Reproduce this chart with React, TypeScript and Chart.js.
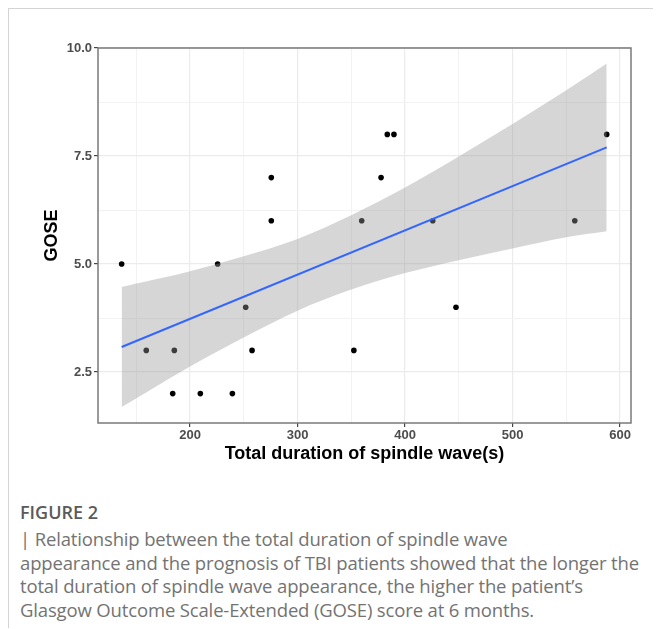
import React, { useEffect, useRef } from "react";
import { Chart, registerables } from "chart.js";

Chart.register(...registerables);

// Scatter data: total duration of spindle wave (s) vs GOSE score
const durations = [136.4, 159.3, 183.9, 185.4, 209.6, 225.7, 239.4, 251.8, 257.7, 275.6, 275.6, 352.4, 359.7, 377.7, 383.5, 389.7, 425.8, 447.4, 557.9, 587.6];
const goseScores = [5, 3, 2, 3, 2, 5, 2, 4, 3, 7, 6, 3, 6, 7, 8, 8, 6, 4, 6, 8];

// Linear fit line
const fitX = [136.4, 587.6];
const fitY = [3.08, 7.7];

// Confidence band
const bandX = [136.4, 160, 200, 250, 300, 350, 400, 450, 500, 550, 587.6];
const bandUpper = [4.47, 4.6, 4.83, 5.18, 5.58, 6.13, 6.77, 7.49, 8.24, 9.02, 9.64];
const bandLower = [1.69, 2.04, 2.63, 3.3, 3.92, 4.41, 4.79, 5.09, 5.36, 5.62, 5.76];

// Axis ticks
const xTicks = [150, 200, 250, 300, 350, 400, 450, 500, 550, 600];
const xMajor = [200, 300, 400, 500, 600];
const yTicks = [2.5, 3.75, 5, 6.25, 7.5, 8.75, 10];
const yMajor = [2.5, 5, 7.5, 10];

const xRange = [114.4, 610.2];
const yRange = [1.32, 10.0];

const captionTitle = "FIGURE 2";
const captionLines = [
  "| Relationship between the total duration of spindle wave",
  "appearance and the prognosis of TBI patients showed that the longer the",
  "total duration of spindle wave appearance, the higher the patient\u2019s",
  "Glasgow Outcome Scale-Extended (GOSE) score at 6 months.",
];

const panelBorder = {
  id: "panelBorder",
  afterDatasetsDraw(chart: any) {
    const { ctx, chartArea } = chart;
    ctx.save();
    ctx.strokeStyle = "#7a7a7a";
    ctx.lineWidth = 1.5;
    ctx.strokeRect(chartArea.left, chartArea.top, chartArea.right - chartArea.left, chartArea.bottom - chartArea.top);
    ctx.restore();
  },
};

export default function App() {
  const ref = useRef<HTMLCanvasElement>(null);

  useEffect(() => {
    if (!ref.current) return;
    const isMajorX = (v: number) => xMajor.includes(v);
    const isMajorY = (v: number) => yMajor.includes(v);
    const chart = new Chart(ref.current, {
      type: "line",
      data: {
        datasets: [
          {
            label: "fit",
            data: fitX.map((x, i) => ({ x, y: fitY[i] })),
            borderColor: "#3366FF",
            borderWidth: 2,
            pointRadius: 0,
            fill: false,
          },
          {
            label: "upper",
            data: bandX.map((x, i) => ({ x, y: bandUpper[i] })),
            borderWidth: 0,
            borderColor: "rgba(0,0,0,0)",
            pointRadius: 0,
            backgroundColor: "rgba(153,153,153,0.4)",
            fill: "+1",
            cubicInterpolationMode: "monotone",
          },
          {
            label: "lower",
            data: bandX.map((x, i) => ({ x, y: bandLower[i] })),
            borderWidth: 0,
            borderColor: "rgba(0,0,0,0)",
            pointRadius: 0,
            fill: false,
            cubicInterpolationMode: "monotone",
          },
          {
            label: "points",
            data: durations.map((x, i) => ({ x, y: goseScores[i] })),
            showLine: false,
            pointRadius: 2.8,
            pointBackgroundColor: "#000",
            pointBorderWidth: 0,
            borderColor: "#000",
          },
        ],
      } as any,
      options: {
        animation: false,
        responsive: false,
        maintainAspectRatio: false,
        layout: { padding: { top: 39, right: 30, left: 0, bottom: 0 } },
        plugins: {
          legend: { display: false },
          tooltip: { enabled: false },
          filler: { drawTime: "beforeDatasetDraw" },
        } as any,
        scales: {
          x: {
            type: "linear",
            min: xRange[0],
            max: xRange[1],
            afterBuildTicks: (s: any) => {
              s.ticks = xTicks.map((v) => ({ value: v }));
            },
            afterFit: (s: any) => {
              s.height = 56;
            },
            grid: {
              color: (c: any) => (c.tick && isMajorX(c.tick.value) ? "#ebebeb" : "#f2f2f2"),
              lineWidth: (c: any) => (c.tick && isMajorX(c.tick.value) ? 1.2 : 1),
              tickColor: (c: any) => (c.tick && isMajorX(c.tick.value) ? "#444" : "rgba(0,0,0,0)"),
              tickLength: 4,
              drawTicks: true,
            },
            border: { display: false },
            ticks: {
              padding: 1,
              color: "#4d4d4d",
              font: { family: "'Liberation Sans', Arial, sans-serif", size: 13, weight: "bold" },
              callback: (v: any) => (isMajorX(Number(v)) ? String(v) : ""),
              maxRotation: 0,
              autoSkip: false,
            },
            title: {
              display: true,
              text: "Total duration of spindle wave(s)",
              color: "#000",
              font: { family: "'Liberation Sans', Arial, sans-serif", size: 18, weight: "bold", lineHeight: 1.2 },
              padding: { top: 0, bottom: 14 },
            },
          },
          y: {
            type: "linear",
            min: yRange[0],
            max: yRange[1],
            afterBuildTicks: (s: any) => {
              s.ticks = yTicks.map((v) => ({ value: v }));
            },
            afterFit: (s: any) => {
              s.width = 89;
            },
            grid: {
              color: (c: any) => (c.tick && isMajorY(c.tick.value) ? "#ebebeb" : "#f2f2f2"),
              lineWidth: (c: any) => (c.tick && isMajorY(c.tick.value) ? 1.2 : 1),
              tickColor: (c: any) => (c.tick && isMajorY(c.tick.value) ? "#444" : "rgba(0,0,0,0)"),
              tickLength: 4,
              drawTicks: true,
            },
            border: { display: false },
            ticks: {
              padding: 2,
              color: "#4d4d4d",
              font: { family: "'Liberation Sans', Arial, sans-serif", size: 13, weight: "bold" },
              callback: (v: any) => (isMajorY(Number(v)) ? Number(v).toFixed(1) : ""),
              autoSkip: false,
            },
            title: {
              display: true,
              text: "GOSE",
              color: "#000",
              font: { family: "'Liberation Sans', Arial, sans-serif", size: 18, weight: "bold", lineHeight: 1.2 },
              padding: { top: 32, bottom: 0 },
            },
          },
        },
      } as any,
      plugins: [panelBorder],
    });
    return () => chart.destroy();
  }, []);

  return (
    <div
      style={{
        borderTop: "1px solid #d4d4d4",
        borderLeft: "1px solid #d4d4d4",
        width: 652,
        height: 620,
        boxSizing: "border-box",
        position: "relative",
      }}
    >
      <canvas ref={ref} width={652} height={470} style={{ display: "block", width: 652, height: 470 }} />
      <div
        style={{
          position: "absolute",
          left: 11,
          top: 491,
          width: 640,
          fontFamily: "'Open Sans', 'Noto Sans', sans-serif",
        }}
      >
        <div style={{ fontSize: 18, fontWeight: 600, color: "#5a5a5a", lineHeight: "24px", marginBottom: 3 }}>
          {captionTitle}
        </div>
        <div style={{ fontSize: 18.5, color: "#737373", lineHeight: "23.7px", letterSpacing: "-0.15px", whiteSpace: "nowrap" }}>
          {captionLines.map((l, i) => (
            <div key={i}>{l}</div>
          ))}
        </div>
      </div>
    </div>
  );
}
